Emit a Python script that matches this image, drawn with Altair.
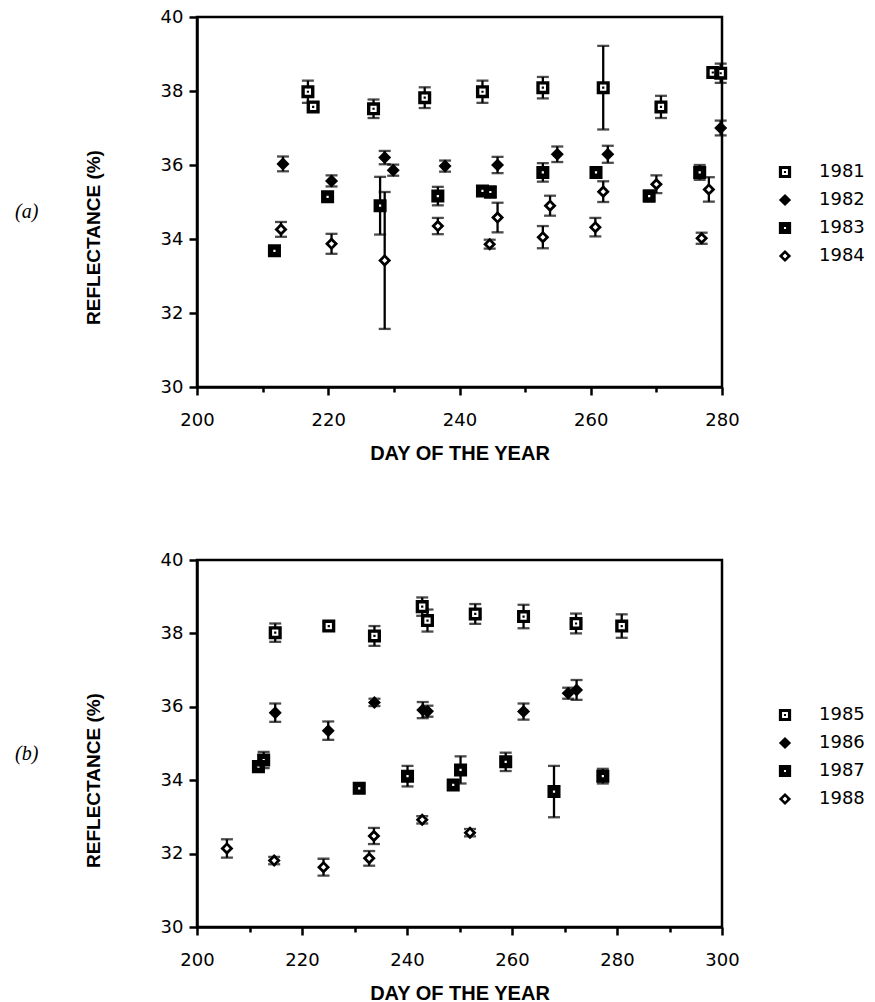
import altair as alt
import pandas as pd

# ---------------- data: panel (a) ----------------
YEARS_A = ["1981", "1982", "1983", "1984"]
a1981_day = [216.9, 217.7, 226.9, 234.7, 243.5, 252.7, 261.9, 270.7, 278.6, 279.8]
a1981_ref = [37.98, 37.57, 37.52, 37.82, 37.98, 38.09, 38.09, 37.57, 38.50, 38.48]
a1981_err = [0.30, 0.10, 0.25, 0.28, 0.30, 0.29, 1.13, 0.30, 0.10, 0.26]

a1982_day = [213.1, 220.5, 228.6, 229.9, 237.8, 245.8, 254.9, 262.6, 279.8]
a1982_ref = [36.03, 35.57, 36.20, 35.86, 35.97, 36.00, 36.29, 36.29, 37.00]
a1982_err = [0.20, 0.15, 0.18, 0.15, 0.15, 0.22, 0.21, 0.23, 0.20]

a1983_day = [211.8, 219.9, 227.9, 236.7, 243.5, 244.7, 252.7, 260.8, 268.9, 276.6]
a1983_ref = [33.68, 35.14, 34.90, 35.16, 35.30, 35.27, 35.80, 35.80, 35.16, 35.80]
a1983_err = [0.10, 0.10, 0.78, 0.25, 0.12, 0.15, 0.25, 0.10, 0.15, 0.20]

a1984_day = [212.8, 220.5, 228.6, 236.7, 244.6, 245.8, 252.7, 253.8, 260.7, 261.9, 270.0, 276.9, 278.0]
a1984_ref = [34.26, 33.87, 33.42, 34.35, 33.86, 34.58, 34.05, 34.90, 34.32, 35.28, 35.48, 34.02, 35.34]
a1984_err = [0.20, 0.27, 1.85, 0.22, 0.12, 0.40, 0.30, 0.27, 0.25, 0.28, 0.24, 0.15, 0.33]

# ---------------- data: panel (b) ----------------
YEARS_B = ["1985", "1986", "1987", "1988"]
b1985_day = [214.9, 225.1, 233.8, 242.9, 243.9, 253.0, 262.2, 272.2, 280.9]
b1985_ref = [38.02, 38.20, 37.93, 38.73, 38.35, 38.53, 38.46, 38.27, 38.20]
b1985_err = [0.25, 0.10, 0.27, 0.25, 0.30, 0.27, 0.32, 0.27, 0.32]

b1986_day = [214.9, 225.0, 233.8, 243.0, 243.9, 262.2, 270.7, 272.3]
b1986_ref = [35.84, 35.35, 36.12, 35.91, 35.88, 35.87, 36.37, 36.46]
b1986_err = [0.25, 0.25, 0.10, 0.22, 0.15, 0.22, 0.15, 0.27]

b1987_day = [211.7, 212.7, 230.9, 240.1, 248.8, 250.2, 258.8, 268.0, 277.3]
b1987_ref = [34.37, 34.55, 33.78, 34.11, 33.87, 34.28, 34.50, 33.69, 34.11]
b1987_err = [0.10, 0.22, 0.10, 0.28, 0.12, 0.37, 0.25, 0.70, 0.20]

b1988_day = [205.7, 214.7, 224.1, 232.8, 233.7, 242.9, 252.0]
b1988_ref = [32.14, 31.81, 31.63, 31.87, 32.48, 32.92, 32.57]
b1988_err = [0.25, 0.10, 0.23, 0.20, 0.22, 0.10, 0.10]


def frame(years, days, refs, errs):
    rows = []
    for y, d, r, e in zip(years, days, refs, errs):
        for dd, rr, ee in zip(d, r, e):
            rows.append({"year": y, "day": dd, "refl": rr, "err": ee})
    return pd.DataFrame(rows)


df_a = frame(YEARS_A, [a1981_day, a1982_day, a1983_day, a1984_day],
             [a1981_ref, a1982_ref, a1983_ref, a1984_ref],
             [a1981_err, a1982_err, a1983_err, a1984_err])
df_b = frame(YEARS_B, [b1985_day, b1986_day, b1987_day, b1988_day],
             [b1985_ref, b1986_ref, b1987_ref, b1988_ref],
             [b1985_err, b1986_err, b1987_err, b1988_err])

# symbol glyphs (unit paths)
OPEN_SQ = "M-1,-1H1V1H-1Z M-0.48,-0.48V0.48H0.48V-0.48Z M-0.17,-0.17H0.17V0.17H-0.17Z"
FILL_DIAMOND = "M0,-1L1,0L0,1L-1,0Z"
FILL_SQ = "M-1,-1H1V1H-1Z M-0.17,-0.17V0.17H0.17V-0.17Z"
OPEN_DIAMOND = "M0,-1L1,0L0,1L-1,0Z M0,-0.4L-0.4,0L0,0.4L0.4,0Z"
SHAPES = [OPEN_SQ, FILL_DIAMOND, FILL_SQ, OPEN_DIAMOND]

TICK_FONT = "DejaVu Sans"
TITLE_FONT = "Liberation Sans"


def panel(df, years, xmax, label, h, legend_y, ytitle_y):
    x_vals = list(range(200, xmax + 1, 10))
    x_enc = alt.X(
        "day:Q",
        scale=alt.Scale(domain=[200, xmax], nice=False, zero=False),
        axis=alt.Axis(
            values=x_vals,
            labelExpr="datum.value % 20 == 0 ? datum.label : ''",
            tickSize={"condition": {"test": "datum.value % 20 == 0", "value": 8}, "value": 5},
            title="DAY OF THE YEAR",
            labelPadding=16,
            labelFlush=False,
            titlePadding=14,
        ),
    )
    y_scale = alt.Scale(domain=[30, 40], nice=False, zero=False)
    y_axis = alt.Axis(
        values=list(range(30, 41)),
        labelExpr="datum.value % 2 == 0 ? datum.label : ''",
        tickSize={"condition": {"test": "datum.value % 2 == 0", "value": 8}, "value": 5},
        title="REFLECTANCE  (%)",
        titleX=-104,
        titleY=ytitle_y,
        titleAlign="center",
        titleBaseline="middle",
        titleAngle=-90,
        labelPadding=6,
        labelFlush=False,
    )
    base = alt.Chart(df).transform_calculate(
        lo="datum.refl - datum.err", hi="datum.refl + datum.err"
    )
    rule = base.mark_rule(color="black", strokeWidth=2.3).encode(
        x=x_enc, y=alt.Y("lo:Q", scale=y_scale, axis=y_axis), y2="hi:Q"
    )
    cap_lo = base.mark_tick(color="black", orient="horizontal", size=12, thickness=2.3).encode(
        x="day:Q", y="lo:Q"
    )
    cap_hi = base.mark_tick(color="black", orient="horizontal", size=12, thickness=2.3).encode(
        x="day:Q", y="hi:Q"
    )
    under = base.mark_square(color="white", size=50, opacity=1).encode(
        x="day:Q", y="refl:Q"
    )
    pts = base.mark_point(filled=True, color="black", size=170, opacity=1, strokeWidth=0).encode(
        x="day:Q",
        y="refl:Q",
        shape=alt.Shape(
            "year:N",
            scale=alt.Scale(domain=years, range=SHAPES),
            legend=alt.Legend(
                title=None,
                orient="none",
                legendX=579,
                legendY=legend_y,
                labelFont=TICK_FONT,
                labelFontSize=18,
                labelColor="black",
                symbolSize=150,
                symbolFillColor="black",
                symbolStrokeWidth=0,
                rowPadding=10,
                labelOffset=25,
            ),
        ),
    )
    return alt.layer(rule, cap_lo, cap_hi, under, pts).properties(
        width=525,
        height=h,
        title=alt.TitleParams(
            text=label,
            orient="left",
            anchor="middle",
            angle=0,
            font="Liberation Serif",
            fontStyle="italic",
            fontWeight="normal",
            fontSize=20,
            color="black",
            offset=34,
            dy=0,
        ),
    )


chart_a = panel(df_a, YEARS_A, 280, "(a)", 370, 146, 220)
chart_b = panel(df_b, YEARS_B, 300, "(b)", 367, 146, 220)

chart = (
    alt.vconcat(chart_a, chart_b, spacing=84)
    .resolve_scale(shape="independent", x="independent", y="independent")
    .resolve_legend(shape="independent")
    .properties(padding={"left": 13, "top": 6, "right": 5, "bottom": 2}, background="white")
    .configure_view(stroke="black", strokeWidth=2.5)
    .configure_axis(
        domainColor="black",
        domainWidth=2.5,
        tickColor="black",
        tickWidth=2.5,
        grid=False,
        labelFont=TICK_FONT,
        labelFontSize=18,
        labelColor="black",
        titleFont=TITLE_FONT,
        titleFontSize=20,
        titleFontWeight="bold",
        titleColor="black",
    )
    .configure_axisY(titleFontSize=19)
)

chart.save("out.html", embed_options={"renderer": "svg", "actions": False})
